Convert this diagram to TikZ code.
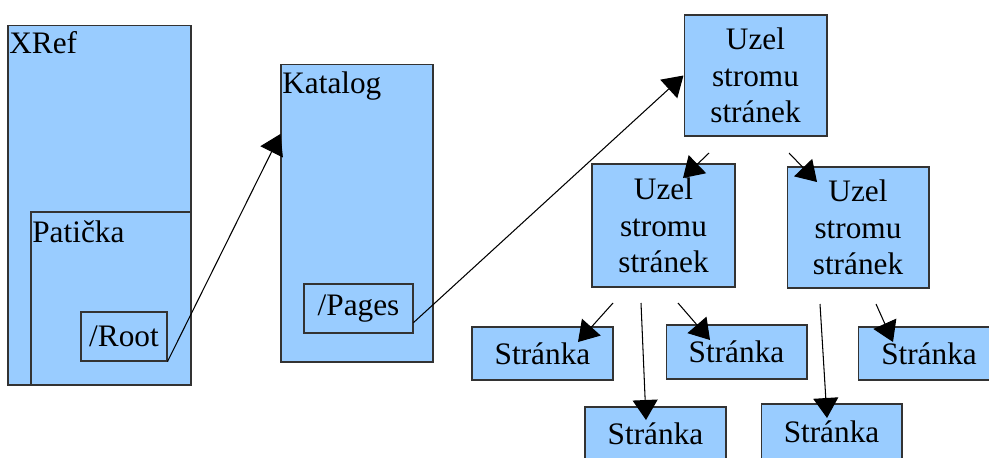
\documentclass[tikz,border=0pt]{standalone}
\usepackage{fontspec}
\setmainfont{Liberation Serif}
\usetikzlibrary{arrows.meta}
\definecolor{BoxBlue}{RGB}{153,204,255}
\definecolor{BoxLine}{RGB}{51,51,51}

\begin{document}
\begin{tikzpicture}[x=0.02cm,y=-0.02cm,
    box/.style={draw=BoxLine,fill=BoxBlue,line width=0.6pt,inner sep=0pt,
                align=center,font=\fontsize{17.8}{20.7}\selectfont},
    tag/.style={inner sep=0pt,anchor=base west,font=\fontsize{17.8}{20.7}\selectfont},
    link/.style={line width=0.6pt,-{Triangle[length=0.4cm,width=0.5cm]}}]
  \clip (0,0) rectangle (989,457);

  % trailer with the /Root entry
  \node[box,minimum width=3.66cm,minimum height=7.2cm] (xref) at (99.5,205) {};
  \node[tag] (xreftag) at (9,53) {XRef};
  \node[box,minimum width=3.2cm,minimum height=3.46cm] (paticka) at (111,298.5) {};
  \node[tag] (patickatag) at (32,242) {Patička};
  \node[box,minimum width=1.72cm,minimum height=0.98cm] (root) at (124,336.5) {/Root};

  % catalog
  \node[box,minimum width=3.04cm,minimum height=5.96cm] (katalog) at (357,213) {};
  \node[tag] (katalogtag) at (282,93) {Katalog};
  \node[box,minimum width=2.18cm,minimum height=0.98cm] (pages) at (358.5,308.5) {/Pages};

  % page tree
  \node[box,minimum width=2.86cm,minimum height=2.42cm] (uzel0) at (755.5,75.5) {Uzel\\stromu\\stránek};
  \node[box,minimum width=2.86cm,minimum height=2.46cm] (uzel1) at (663.5,225.5) {Uzel\\stromu\\stránek};
  \node[box,minimum width=2.84cm,minimum height=2.42cm] (uzel2) at (858,227.5) {Uzel\\stromu\\stránek};

  \node[box,minimum width=2.82cm,minimum height=1.06cm] (str1) at (542.5,353.5) {Stránka};
  \node[box,minimum width=2.82cm,minimum height=1.08cm] (str2) at (736.5,352) {Stránka};
  \node[box,minimum width=2.84cm,minimum height=1.06cm] (str3) at (929,353.5) {Stránka};
  \node[box,minimum width=2.82cm,minimum height=1.08cm] (str4) at (655.5,434) {Stránka};
  \node[box,minimum width=2.82cm,minimum height=1.12cm] (str5) at (831.5,432) {Stránka};

  % loose ends of the tree arrows
  \coordinate (a0) at (709,153); \coordinate (a1) at (683,178);
  \coordinate (b0) at (789,153); \coordinate (b1) at (817,182);
  \coordinate (c0) at (613,303); \coordinate (c1) at (578,342);
  \coordinate (d0) at (641,303); \coordinate (d1) at (646,420);
  \coordinate (e0) at (678,303); \coordinate (e1) at (710,340);
  \coordinate (f0) at (820,304); \coordinate (f1) at (827,418);
  \coordinate (g0) at (876,304); \coordinate (g1) at (893,342);

  \draw[link] (root.south east) -- ([yshift=45pt]katalog.west);
  \draw[link] ([yshift=-8pt]pages.east) -- (uzel0.west);
  \draw[link] (a0) -- (a1);
  \draw[link] (b0) -- (b1);
  \draw[link] (c0) -- (c1);
  \draw[link] (d0) -- (d1);
  \draw[link] (e0) -- (e1);
  \draw[link] (f0) -- (f1);
  \draw[link] (g0) -- (g1);
\end{tikzpicture}
\end{document}
